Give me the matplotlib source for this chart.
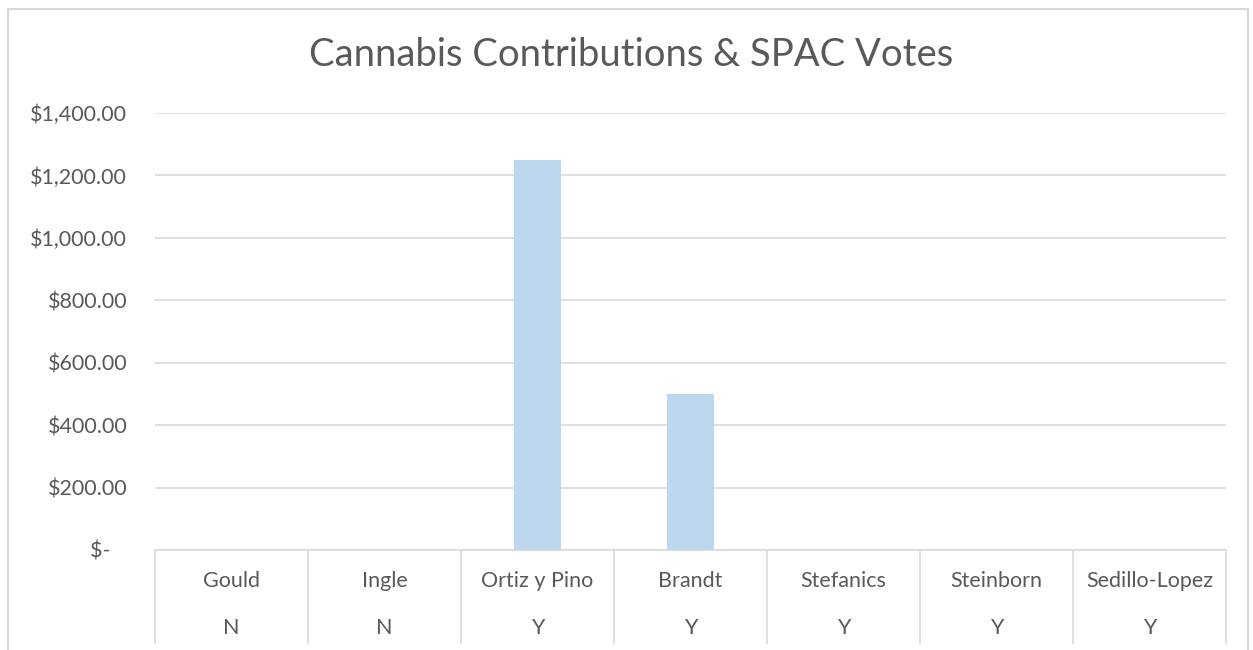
import matplotlib.pyplot as plt
from matplotlib.patches import Rectangle
from matplotlib.ticker import FuncFormatter
import matplotlib.transforms as mtransforms

names = ["Gould", "Ingle", "Ortiz y Pino", "Brandt", "Stefanics", "Steinborn", "Sedillo-Lopez"]
votes = ["N", "N", "Y", "Y", "Y", "Y", "Y"]
contributions = [0, 0, 1250, 500, 0, 0, 0]

W, H = 1253, 650
gris = "#595959"
linea = "#D9D9D9"

plt.rcParams["font.family"] = ["Lato", "DejaVu Sans"]

fig = plt.figure(figsize=(W / 100, H / 100), dpi=100)
# borde del grafico
fig.patches.append(Rectangle((8 / W, -0.05), (1248 - 8) / W, 1.05 - 9 / H,
                             transform=fig.transFigure, fill=False,
                             edgecolor=linea, linewidth=1.5))

left, right, top, bottom = 155, 1226, 113, 550
ax = fig.add_axes([left / W, (H - bottom) / H, (right - left) / W, (bottom - top) / H])

x = range(len(names))
ax.bar(x, contributions, width=0.31, color="#BDD7EE", zorder=3)

ax.set_xlim(-0.5, len(names) - 0.5)
ax.set_ylim(0, 1400)
ax.set_yticks(range(0, 1401, 200))
ax.yaxis.set_major_formatter(FuncFormatter(lambda v, p: "$-   " if v == 0 else "${:,.2f}".format(v)))
ax.tick_params(axis="y", length=0, pad=20, labelsize=15.5, labelcolor=gris)
ax.set_xticks([])
ax.grid(axis="y", color=linea, linewidth=1.2, zorder=0)
for s in ["top", "right", "left"]:
    ax.spines[s].set_visible(False)
ax.spines["bottom"].set_color(linea)
ax.spines["bottom"].set_linewidth(1.2)

# eje de categorias de dos niveles
trans = mtransforms.blended_transform_factory(ax.transData, ax.transAxes)
alto = bottom - top
fondo = -(H - 7 - bottom) / alto
for i in range(len(names) + 1):
    ax.plot([i - 0.5, i - 0.5], [0, fondo], transform=trans, color=linea,
            linewidth=1.2, clip_on=False)
for i, (n, v) in enumerate(zip(names, votes)):
    ax.text(i, -(581 - bottom) / alto, n, transform=trans, ha="center", va="center",
            fontsize=15.5, color=gris)
    ax.text(i, -(628 - bottom) / alto, v, transform=trans, ha="center", va="center",
            fontsize=15.5, color=gris)

fig.text((308 + 955) / 2 / W, 1 - 55 / H, "Cannabis Contributions & SPAC Votes",
         ha="center", va="center", fontsize=27.5, color=gris)

fig.savefig("out.png", dpi=100)
